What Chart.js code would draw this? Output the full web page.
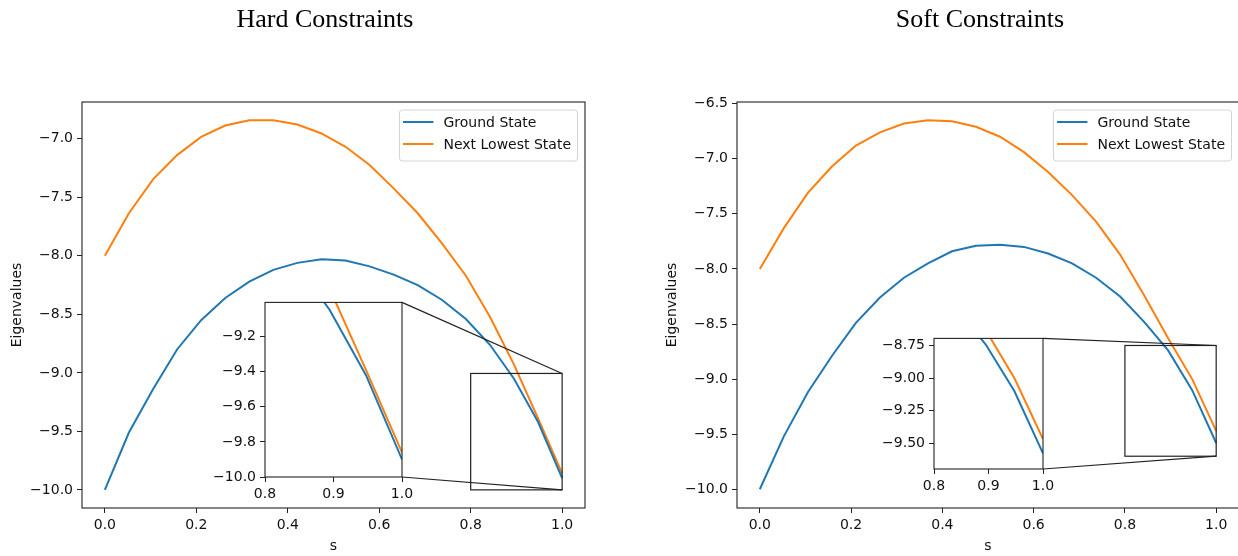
<!DOCTYPE html>
<html>
<head>
<meta charset="utf-8">
<script src="https://cdn.jsdelivr.net/npm/chart.js@4"></script>
<style>
    html, body { margin: 0; padding: 0; background: #fff; overflow: hidden; }
    body { width: 1238px; height: 556px; position: relative; }
    canvas { position: absolute; }
</style>
</head>
<body>
<canvas id="hard_main"></canvas>
<canvas id="soft_main"></canvas>
<canvas id="hard_inset"></canvas>
<canvas id="soft_inset"></canvas>
<script>
// values (20 samples of s)
const s_values = [0.0, 0.0526, 0.1053, 0.1579, 0.2105, 0.2632, 0.3158, 0.3684, 0.4211, 0.4737,
                  0.5263, 0.5789, 0.6316, 0.6842, 0.7368, 0.7895, 0.8421, 0.8947, 0.9474, 1.0];

const hard_ground = [-10.00, -9.51, -9.14, -8.80, -8.55, -8.36, -8.22, -8.12, -8.06, -8.03,
                     -8.04, -8.09, -8.16, -8.25, -8.375, -8.54, -8.76, -9.05, -9.42, -9.90];
const hard_next   = [-8.00, -7.636, -7.346, -7.139, -6.983, -6.886, -6.841, -6.841, -6.877, -6.954,
                     -7.068, -7.224, -7.423, -7.636, -7.892, -8.17, -8.52, -8.93, -9.39, -9.86];

const soft_ground = [-10.00, -9.52, -9.12, -8.79, -8.49, -8.26, -8.08, -7.95, -7.84, -7.79,
                     -7.78, -7.80, -7.86, -7.95, -8.08, -8.25, -8.48, -8.74, -9.10, -9.58];
const soft_next   = [-8.00, -7.63, -7.31, -7.07, -6.88, -6.76, -6.68, -6.65, -6.66, -6.71,
                     -6.80, -6.94, -7.12, -7.33, -7.57, -7.87, -8.24, -8.63, -9.00, -9.47];

const series_labels = ['Ground State', 'Next Lowest State'];
const series_colors = ['#1f77b4', '#ff7f0e'];

const main_x_ticks       = [0.0, 0.2, 0.4, 0.6, 0.8, 1.0];
const hard_y_ticks       = [-10.0, -9.5, -9.0, -8.5, -8.0, -7.5, -7.0];
const soft_y_ticks       = [-10.0, -9.5, -9.0, -8.5, -8.0, -7.5, -7.0, -6.5];
const inset_x_ticks      = [0.8, 0.9, 1.0];
const hard_inset_y_ticks = [-10.0, -9.8, -9.6, -9.4, -9.2];
const soft_inset_y_ticks = [-9.5, -9.25, -9.0, -8.75];

const main_x_range       = [-0.05, 1.05];
const hard_y_range       = [-10.155, -6.685];
const soft_y_range       = [-10.17, -6.485];
const inset_x_range      = [0.8, 1.0];
const hard_inset_y_range = [-10.0, -9.005];
const soft_inset_y_range = [-9.70, -8.695];

const text_color  = '#111111';
const frame_color = '#222222';

Chart.defaults.font.family = "'DejaVu Sans', sans-serif";
Chart.defaults.font.size = 14;
Chart.defaults.color = text_color;


function fmt(v, digits) {
    const txt = Math.abs(v).toFixed(digits);
    return v < 0 ? '\u2212' + txt : txt;
}

function make_datasets(ground, next) {
    return [ground, next].map((ys, k) => ({
        label: series_labels[k],
        data: s_values.map((s, i) => ({ x: s, y: ys[i] })),
        borderColor: series_colors[k],
        backgroundColor: series_colors[k],
        borderWidth: 2,
        pointRadius: 0,
        tension: 0,
        clip: 0
    }));
}

function axis(range, tick_values, digits, size_key, size, title) {
    const cfg = {
        type: 'linear',
        min: range[0],
        max: range[1],
        afterBuildTicks: a => { a.ticks = tick_values.map(v => ({ value: v })); },
        afterFit: a => { a[size_key] = size; },
        ticks: { callback: v => fmt(v, digits), color: text_color, padding: 4, autoSkip: false, maxRotation: 0 },
        grid: { drawOnChartArea: false, drawTicks: true, tickLength: 5, tickColor: frame_color, tickWidth: 1 },
        border: { display: false }
    };
    if (title) cfg.title = title;
    return cfg;
}

function place_canvas(id, box) {
    const canvas = document.getElementById(id);
    canvas.width = box.width;
    canvas.height = box.height;
    canvas.style.left = box.left + 'px';
    canvas.style.top = box.top + 'px';
    canvas.style.width = box.width + 'px';
    canvas.style.height = box.height + 'px';
    return canvas;
}


const frame_plugin = {
    id: 'frame',
    beforeDraw(chart, args, opts) {
        if (!opts.fill) return;
        const a = chart.chartArea;
        chart.ctx.save();
        chart.ctx.fillStyle = '#ffffff';
        chart.ctx.fillRect(a.left, a.top, a.right - a.left, a.bottom - a.top);
        chart.ctx.restore();
    },
    afterDatasetsDraw(chart) {
        const a = chart.chartArea, ctx = chart.ctx;
        ctx.save();
        ctx.strokeStyle = frame_color;
        ctx.lineWidth = 1.1;
        ctx.strokeRect(a.left, a.top, a.right - a.left, a.bottom - a.top);
        ctx.restore();
    }
};

const panel_title_plugin = {
    id: 'panelTitle',
    afterDraw(chart, args, opts) {
        const ctx = chart.ctx;
        ctx.save();
        ctx.font = "26px 'Liberation Serif', serif";
        ctx.fillStyle = '#000000';
        ctx.textAlign = 'center';
        ctx.textBaseline = 'middle';
        ctx.fillText(opts.text, chart.width / 2, 20);
        ctx.restore();
    }
};

// rectangle on the zoomed region plus the two connector lines to the inset
const mark_inset_plugin = {
    id: 'markInset',
    afterDatasetsDraw(chart, args, opts) {
        const ctx = chart.ctx, x = chart.scales.x, y = chart.scales.y;
        const left   = x.getPixelForValue(opts.x_range[0]);
        const right  = x.getPixelForValue(opts.x_range[1]);
        const top    = y.getPixelForValue(opts.y_range[1]);
        const bottom = y.getPixelForValue(opts.y_range[0]);
        const inset = opts.inset;
        const dx = inset.canvas.offsetLeft - chart.canvas.offsetLeft;
        const dy = inset.canvas.offsetTop - chart.canvas.offsetTop;
        const ia = inset.chartArea;

        ctx.save();
        ctx.strokeStyle = frame_color;
        ctx.lineWidth = 1.2;
        ctx.strokeRect(left, top, right - left, bottom - top);
        ctx.beginPath();
        ctx.moveTo(ia.right + dx, ia.top + dy);
        ctx.lineTo(right, top);
        ctx.moveTo(ia.right + dx, ia.bottom + dy);
        ctx.lineTo(right, bottom);
        ctx.stroke();
        ctx.restore();
    }
};

const box_legend_plugin = {
    id: 'boxLegend',
    afterDraw(chart) {
        const ctx = chart.ctx, a = chart.chartArea;
        ctx.save();
        ctx.font = "14px 'DejaVu Sans', sans-serif";
        const widths = chart.data.datasets.map(d => ctx.measureText(d.label).width);
        const box_w = 44 + Math.max(...widths) + 6.5;
        const box_h = 51;
        const bx = a.right - 7.5 - box_w;
        const by = a.top + 8;

        ctx.beginPath();
        ctx.roundRect(bx, by, box_w, box_h, 3);
        ctx.fillStyle = 'rgba(255,255,255,0.8)';
        ctx.fill();
        ctx.strokeStyle = '#d4d4d4';
        ctx.lineWidth = 1;
        ctx.stroke();

        chart.data.datasets.forEach((d, i) => {
            const ry = by + 12 + i * 22;
            ctx.strokeStyle = d.borderColor;
            ctx.lineWidth = 2;
            ctx.beginPath();
            ctx.moveTo(bx + 3.5, ry);
            ctx.lineTo(bx + 34, ry);
            ctx.stroke();
            ctx.fillStyle = text_color;
            ctx.textAlign = 'left';
            ctx.textBaseline = 'middle';
            ctx.fillText(d.label, bx + 44, ry + 1);
        });
        ctx.restore();
    }
};


function make_inset(id, box, y_range, y_ticks, y_digits, ground, next) {
    const canvas = place_canvas(id, box);
    return new Chart(canvas, {
        type: 'line',
        data: { datasets: make_datasets(ground, next) },
        options: {
            responsive: false,
            animation: false,
            events: [],
            layout: { padding: { top: 10, right: 16, left: 0, bottom: 0 } },
            scales: {
                x: axis(inset_x_range, inset_x_ticks, 1, 'height', 30),
                y: axis(y_range, y_ticks, y_digits, 'width', 60)
            },
            plugins: {
                legend: { display: false },
                tooltip: { enabled: false },
                frame: { fill: true }
            }
        },
        plugins: [frame_plugin]
    });
}

function make_main(id, box, title, y_axis_width, right_pad, y_title_pad, y_range, y_ticks, ground, next, inset, inset_y_range) {
    const canvas = place_canvas(id, box);
    return new Chart(canvas, {
        type: 'line',
        data: { datasets: make_datasets(ground, next) },
        options: {
            responsive: false,
            animation: false,
            events: [],
            layout: { padding: { top: 102, right: right_pad, left: 0, bottom: 0 } },
            scales: {
                x: axis(main_x_range, main_x_ticks, 1, 'height', 48,
                        { display: true, text: 's', color: text_color, padding: { top: 0, bottom: 1 } }),
                y: axis(y_range, y_ticks, 1, 'width', y_axis_width,
                        { display: true, text: 'Eigenvalues', color: text_color, padding: { top: y_title_pad, bottom: 0 } })
            },
            plugins: {
                legend: { display: false },
                tooltip: { enabled: false },
                frame: { fill: false },
                panelTitle: { text: title },
                markInset: { x_range: inset_x_range, y_range: inset_y_range, inset: inset }
            }
        },
        plugins: [frame_plugin, panel_title_plugin, mark_inset_plugin, box_legend_plugin]
    });
}


const hard_inset = make_inset('hard_inset', { left: 205, top: 290, width: 213, height: 217 },
                              hard_inset_y_range, hard_inset_y_ticks, 1, hard_ground, hard_next);
const soft_inset = make_inset('soft_inset', { left: 874, top: 326, width: 185, height: 173 },
                              soft_inset_y_range, soft_inset_y_ticks, 2, soft_ground, soft_next);

make_main('hard_main', { left: 0, top: 0, width: 650, height: 556 }, 'Hard Constraints',
          82, 65, 8.6, hard_y_range, hard_y_ticks, hard_ground, hard_next, hard_inset, hard_inset_y_range);
make_main('soft_main', { left: 650, top: 0, width: 660, height: 556 }, 'Soft Constraints',
          87, 71, 13.6, soft_y_range, soft_y_ticks, soft_ground, soft_next, soft_inset, soft_inset_y_range);
</script>
</body>
</html>
